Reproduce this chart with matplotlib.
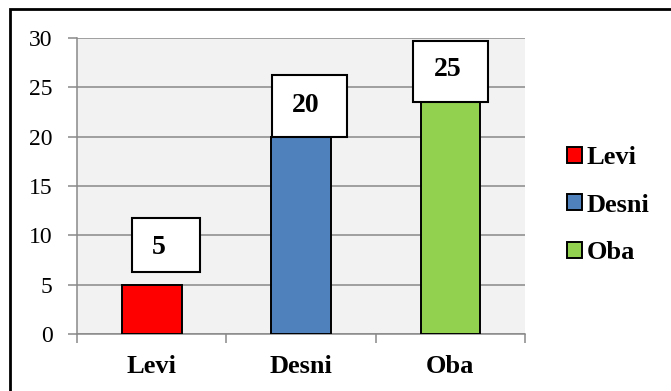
import matplotlib
matplotlib.use("Agg")
import matplotlib.pyplot as plt
from matplotlib.patches import Rectangle

categories = ["Levi", "Desni", "Oba"]
values = [5, 20, 25]
bar_colors = ["#ff0000", "#4f81bd", "#92d050"]
y_ticks = [0, 5, 10, 15, 20, 25, 30]

# label text placement relative to each bar (x shift, baseline above value)
text_dx = [0.05, 0.03, -0.02]
text_dy = [3.1, 2.5, 1.1]
# label box edges relative to each bar: (left, right, bottom, top)
box_edges = [(-0.132, 0.324, 1.3, 6.8),
             (-0.194, 0.308, 0.0, 6.25),
             (-0.25, 0.252, -1.5, 4.7)]

plt.rcParams["font.family"] = ["Liberation Serif", "DejaVu Serif"]
grid_grey = "#898989"

fig = plt.figure(figsize=(6.71, 3.91), dpi=100)
ax = fig.add_axes([0.1148, 0.1458, 0.6677, 0.757])
ax.set_facecolor("#f2f2f2")

x = list(range(len(categories)))
for xi, v, c, name in zip(x, values, bar_colors, categories):
    ax.bar(xi, v, width=0.4, color=c, edgecolor="black", linewidth=1.4,
           label=name, zorder=3)

# white value boxes with bold numbers
for xi, v, dx, dy, (l, r, b, t) in zip(x, values, text_dx, text_dy, box_edges):
    ax.add_patch(Rectangle((xi + l, v + b), r - l, t - b, facecolor="white",
                           edgecolor="black", linewidth=1.5, zorder=4,
                           clip_on=False))
    ax.text(xi + dx, v + dy, str(v), ha="center", va="baseline",
            fontsize=20, fontweight="bold", zorder=5)

ax.set_xlim(-0.5, 2.5)
ax.set_ylim(0, 30)
ax.set_yticks(y_ticks)
ax.set_yticklabels([str(t) for t in y_ticks], fontsize=17)
ax.set_xticks(x)
ax.set_xticklabels(categories, fontsize=19, fontweight="bold")
ax.set_xticks([-0.5, 0.5, 1.5, 2.5], minor=True)
ax.tick_params(axis="x", which="major", length=0, pad=15)
ax.tick_params(axis="x", which="minor", length=6.5, width=1.1,
               color=grid_grey, direction="out")
ax.tick_params(axis="y", length=6.5, width=1.1, color=grid_grey,
               direction="out", pad=11)

ax.grid(axis="y", color=grid_grey, linewidth=1.1, zorder=0)
ax.set_axisbelow(True)
for side in ["top", "right"]:
    ax.spines[side].set_visible(False)
for side in ["left", "bottom"]:
    ax.spines[side].set_color(grid_grey)
    ax.spines[side].set_linewidth(1.1)

ax.legend(loc="center left", bbox_to_anchor=(0.845, 0.475),
          bbox_transform=fig.transFigure, frameon=False,
          prop={"size": 19, "weight": "bold"},
          handlelength=0.55, handleheight=0.55, handletextpad=0.2,
          labelspacing=0.92, borderpad=0, borderaxespad=0)

# outer chart frame (runs off the right and bottom edges)
fig.patches.append(Rectangle((10 / 671, -0.05), 1.0, 1 - 9 / 391 + 0.05,
                             transform=fig.transFigure, fill=False,
                             edgecolor="black", linewidth=2.0))

fig.savefig("out.png", dpi=100)
